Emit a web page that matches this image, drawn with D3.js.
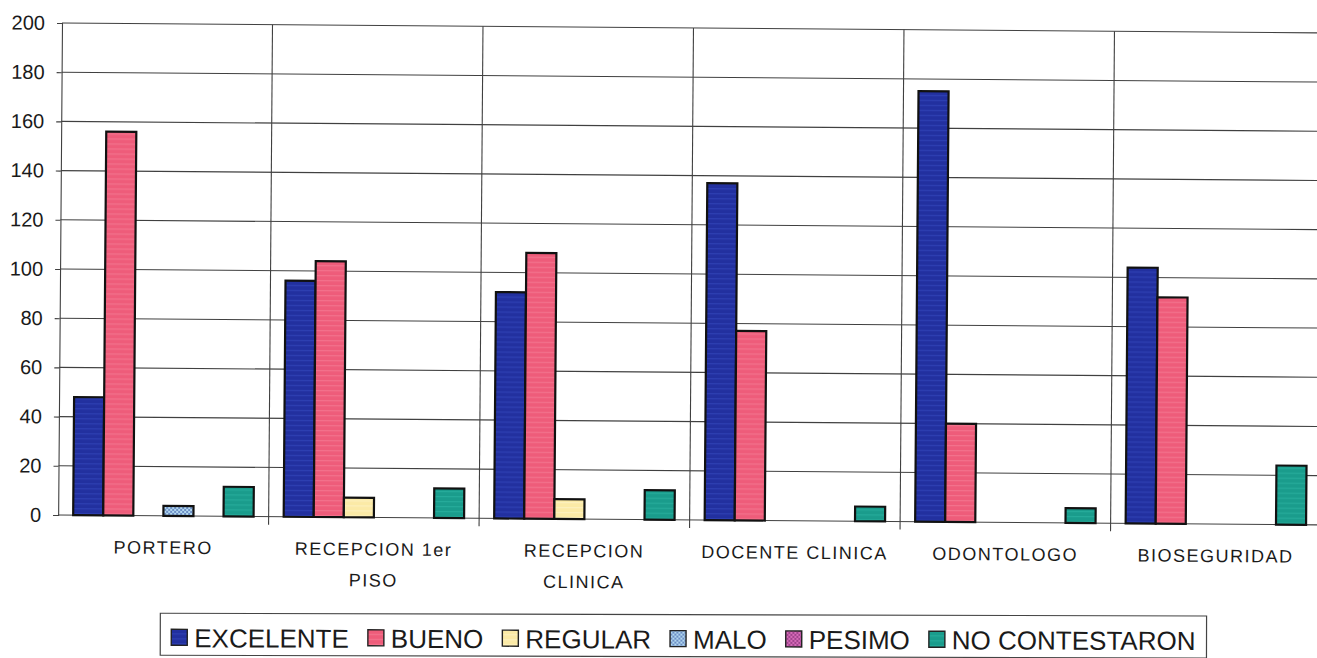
<!DOCTYPE html>
<html>
<head>
<meta charset="utf-8">
<script src="https://cdn.jsdelivr.net/npm/d3@7"></script>
<style>
  html, body { margin: 0; padding: 0; background: #fff; overflow: hidden; }
  svg { display: block; }
  text { font-family: "Liberation Sans", Arial, sans-serif; fill: #1a1a1a; }
</style>
</head>
<body>
<svg id="chart" width="1317" height="658"></svg>
<script>
// ---- data ----
const categories = ["PORTERO", "RECEPCION 1er PISO", "RECEPCION CLINICA", "DOCENTE CLINICA", "ODONTOLOGO", "BIOSEGURIDAD"];
const seriesNames = ["EXCELENTE", "BUENO", "REGULAR", "MALO", "PESIMO", "NO CONTESTARON"];
const excelente = [48, 96, 92, 137, 175, 104];
const bueno     = [156, 104, 108, 77, 40, 92];
const regular   = [0, 8, 8, 0, 0, 0];
const malo      = [4, 0, 0, 0, 0, 0];
const pesimo    = [0, 0, 0, 0, 0, 0];
const noContestaron = [12, 12, 12, 6, 6, 24];
const yTicks = [0, 20, 40, 60, 80, 100, 120, 140, 160, 180, 200];
const seriesColors = ["#22309f", "#ee5c7a", "#fbeaa6", "#b3d9ef", "#d66bb8", "#1a9c8c"];
const stripeColors = ["#3348bb", "#f47c95", "#fdf3c8", "#3a5aa8", "#7a2a70", "#2bb3a0"];

const seriesValues = [excelente, bueno, regular, malo, pesimo, noContestaron];

// ---- layout ----
const svg = d3.select("#chart");
const plotLeft = 62, plotTop = 23, plotBottom = 515, plotRight = 62 + 6 * 210.5;

// textures (print/scan look)
const defs = svg.append("defs");
seriesNames.forEach((s, i) => {
  const p = defs.append("pattern").attr("id", "pat" + i).attr("patternUnits", "userSpaceOnUse");
  if (i === 3 || i === 4) {
    p.attr("width", 4).attr("height", 4);
    p.append("rect").attr("width", 4).attr("height", 4).attr("fill", seriesColors[i]);
    p.append("rect").attr("width", 2).attr("height", 2).attr("fill", stripeColors[i]).attr("opacity", 0.6);
    p.append("rect").attr("x", 2).attr("y", 2).attr("width", 2).attr("height", 2).attr("fill", stripeColors[i]).attr("opacity", 0.6);
  } else {
    p.attr("width", 6).attr("height", 5);
    p.append("rect").attr("width", 6).attr("height", 5).attr("fill", seriesColors[i]);
    p.append("rect").attr("y", 3).attr("width", 6).attr("height", 1.2).attr("fill", stripeColors[i]).attr("opacity", 0.7);
  }
});

const g = svg.append("g").attr("transform", `rotate(0.45, ${plotLeft}, ${plotTop})`);

const y = d3.scaleLinear().domain([0, 200]).range([plotBottom, plotTop]);
const x0 = d3.scaleBand().domain(categories).range([plotLeft, plotRight]).paddingInner(0).paddingOuter(0);
const x1 = d3.scaleBand().domain(seriesNames).range([0, x0.bandwidth()]).paddingInner(0).paddingOuter(0.5);
const fillOf = d3.scaleOrdinal().domain(seriesNames).range(seriesNames.map((s, i) => `url(#pat${i})`));

// horizontal gridlines
g.append("g").selectAll("line").data(yTicks.filter(t => t > 0)).join("line")
  .attr("x1", plotLeft).attr("x2", plotRight)
  .attr("y1", d => y(d)).attr("y2", d => y(d))
  .attr("stroke", "#404040").attr("stroke-width", 1.1);

// vertical category dividers (extend below axis as tick marks)
const boundaries = categories.map(c => x0(c) + x0.bandwidth());
g.append("g").selectAll("line").data(boundaries).join("line")
  .attr("x1", d => d).attr("x2", d => d)
  .attr("y1", y(200)).attr("y2", plotBottom + 8)
  .attr("stroke", "#404040").attr("stroke-width", 1.1);

// y axis
const yAxis = d3.axisLeft(y).tickValues(yTicks).tickSize(5).tickPadding(12).tickFormat(d3.format("d"));
const ya = g.append("g").attr("transform", `translate(${plotLeft},0)`).call(yAxis);
ya.select(".domain").attr("stroke", "#404040").attr("stroke-width", 1.1);
ya.selectAll(".tick line").attr("stroke", "#404040").attr("stroke-width", 1.1);
ya.selectAll(".tick text").style("font-size", "20px").style("font-family", "Liberation Sans, Arial, sans-serif").attr("fill", "#1a1a1a");

// x axis baseline
g.append("line").attr("x1", plotLeft).attr("x2", plotRight).attr("y1", y(0)).attr("y2", y(0))
  .attr("stroke", "#404040").attr("stroke-width", 1.1);

// bars
const rows = [];
categories.forEach((c, i) => {
  seriesNames.forEach((s, j) => {
    rows.push({ cat: c, series: s, value: seriesValues[j][i] });
  });
});
g.append("g").selectAll("rect").data(rows.filter(d => d.value > 0)).join("rect")
  .attr("x", d => x0(d.cat) + x1(d.series))
  .attr("y", d => y(d.value))
  .attr("width", x1.bandwidth())
  .attr("height", d => y(0) - y(d.value))
  .attr("fill", d => fillOf(d.series))
  .attr("stroke", "#111")
  .attr("stroke-width", 2.2);

// category labels with wrapping
const labelG = g.append("g");
categories.forEach(c => {
  const cx = x0(c) + x0.bandwidth() / 2;
  const t = labelG.append("text")
    .attr("x", cx).attr("y", 553)
    .attr("text-anchor", "middle")
    .style("font-size", "18px").style("letter-spacing", "1.5px");
  const words = c.split(" ");
  let line = [];
  let tspan = t.append("tspan").attr("x", cx).attr("dy", 0);
  words.forEach(w => {
    line.push(w);
    tspan.text(line.join(" "));
    if (tspan.node().getComputedTextLength() > 200 && line.length > 1) {
      line.pop();
      tspan.text(line.join(" "));
      line = [w];
      tspan = t.append("tspan").attr("x", cx).attr("dy", 31).text(w);
    }
  });
});

// legend (own slight tilt so it stays inside the frame)
const legG = svg.append("g").attr("transform", `rotate(0.15, ${plotLeft}, ${plotTop})`);
const legBox = legG.append("rect").attr("fill", "#fff").attr("stroke", "#444").attr("stroke-width", 1.2);
const items = legG.selectAll("g.item").data(seriesNames).join("g").attr("class", "item");
items.append("rect").attr("width", 16).attr("height", 16).attr("y", 629)
  .attr("fill", d => fillOf(d)).attr("stroke", "#222").attr("stroke-width", 1.4);
items.append("text").attr("y", 647).style("font-size", "26px").text(d => d);
const widths = [];
items.selectAll("text").each(function () { widths.push(this.getComputedTextLength()); });
const sw = 16, swGap = 7, itemGap = 19;
const total = d3.sum(widths) + seriesNames.length * (sw + swGap) + (seriesNames.length - 1) * itemGap;
let lx = 685 - total / 2;
items.each(function (d, i) {
  const it = d3.select(this);
  it.select("rect").attr("x", lx);
  it.select("text").attr("x", lx + sw + swGap);
  lx += sw + swGap + widths[i] + itemGap;
});
legBox.attr("x", 685 - total / 2 - 11).attr("y", 613).attr("width", total + 22).attr("height", 42);
</script>
</body>
</html>
